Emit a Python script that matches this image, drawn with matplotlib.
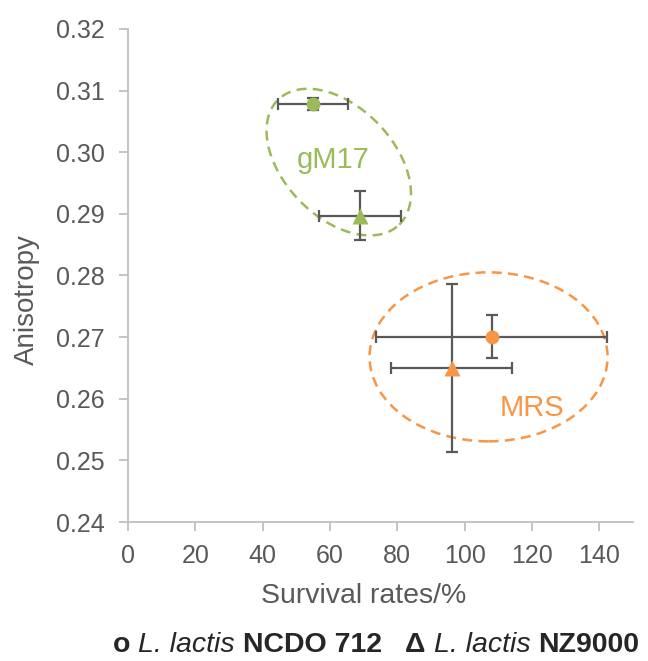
import numpy as np
import matplotlib.pyplot as plt
from matplotlib.patches import Ellipse
from matplotlib.offsetbox import TextArea, HPacker, AnchoredOffsetbox

plt.rcParams['font.family'] = ['Liberation Sans', 'DejaVu Sans']

# data: [gM17, MRS]
ncdo_x = [54.9, 108.0]
ncdo_y = [0.3078, 0.2701]
ncdo_xerr = [10.3, 34.3]
ncdo_yerr = [0.0010, 0.0035]

nz_x = [68.8, 96.1]
nz_y = [0.2897, 0.2650]
nz_xerr = [12.2, 18.0]
nz_yerr = [0.0040, 0.0137]

colors = ['#9BBB59', '#F79646']
media = ['gM17', 'MRS']
xticks = [0, 20, 40, 60, 80, 100, 120, 140]
yticks = [0.24, 0.25, 0.26, 0.27, 0.28, 0.29, 0.30, 0.31, 0.32]

W, H = 648, 661
left, right, bottom, top = 128 / W, 633 / W, 1 - 522 / H, 1 - 29 / H
fig = plt.figure(figsize=(W / 100, H / 100), dpi=100)
ax = fig.add_axes([left, bottom, right - left, top - bottom])
ax.set_xlim(0, 150)
ax.set_ylim(0.24, 0.32)

grey = '#595959'
for i in range(2):
    ax.errorbar(ncdo_x[i], ncdo_y[i], xerr=ncdo_xerr[i], yerr=ncdo_yerr[i], fmt='none',
                ecolor=grey, elinewidth=1.6, capsize=4, capthick=1.6, zorder=2)
    ax.errorbar(nz_x[i], nz_y[i], xerr=nz_xerr[i], yerr=nz_yerr[i], fmt='none',
                ecolor=grey, elinewidth=1.6, capsize=4, capthick=1.6, zorder=2)
    ax.plot(ncdo_x[i], ncdo_y[i], 'o', color=colors[i], ms=10, mec='none', zorder=3)
    ax.plot(nz_x[i], nz_y[i], '^', color=colors[i], ms=12, mec='none', zorder=3)

# pixel scale of the axes
sx = (right - left) * W / 150
sy = (top - bottom) * H / 0.08

# gM17 ellipse, rotated in screen space
t = np.linspace(0, 2 * np.pi, 300)
a, b, ang = 87, 55, np.deg2rad(-46)
cx, cy = 62.6, 0.2984
ex = cx + (a * np.cos(t) * np.cos(ang) - b * np.sin(t) * np.sin(ang)) / sx
ey = cy + (a * np.cos(t) * np.sin(ang) + b * np.sin(t) * np.cos(ang)) / sy
ax.plot(ex, ey, color=colors[0], lw=1.8, ls=(0, (4, 2.5)), zorder=1)

# MRS ellipse
ax.add_patch(Ellipse((107.1, 0.2668), 238 / sx, 169 / sy, fill=False,
                     ec=colors[1], lw=1.8, ls=(0, (4, 2.5)), zorder=1))

ax.text(61.0, 0.2988, media[0], color=colors[0], fontsize=21, ha='center', va='center')
ax.text(120.0, 0.2585, media[1], color=colors[1], fontsize=21, ha='center', va='center')

for s in ['top', 'right']:
    ax.spines[s].set_visible(False)
for s in ['left', 'bottom']:
    ax.spines[s].set_color('#BFBFBF')
    ax.spines[s].set_linewidth(1.3)
ax.set_xticks(xticks)
ax.set_yticks(yticks)
ax.set_yticklabels([f'{v:.2f}' for v in yticks])
ax.tick_params(colors='#BFBFBF', labelcolor=grey, labelsize=18, length=6.5, width=1.3)
ax.tick_params(axis='x', pad=9)
ax.tick_params(axis='y', pad=10)
ax.set_xlabel('Survival rates/%', fontsize=20.5, color=grey)
ax.set_ylabel('Anisotropy', fontsize=20, color=grey)
ax.xaxis.set_label_coords(70 / 150, -0.123)
ax.yaxis.set_label_coords(-0.174, 0.452)

# legend made of text pieces
fc = '#262626'
parts = [('o ', 'normal', 'bold'), ('L. lactis ', 'italic', 'normal'), ('NCDO 712   ', 'normal', 'bold'),
         ('Δ ', 'normal', 'bold'), ('L. lactis ', 'italic', 'normal'), ('NZ9000', 'normal', 'bold')]
boxes = [TextArea(s, textprops=dict(fontsize=20.5, style=st, weight=w, color=fc)) for s, st, w in parts]
pack = HPacker(children=boxes, align='baseline', pad=0, sep=0)
ab = AnchoredOffsetbox(loc='center', child=pack, frameon=False, pad=0, borderpad=0,
                       bbox_to_anchor=(376 / W, 1 - 645 / H), bbox_transform=fig.transFigure)
fig.add_artist(ab)

fig.savefig('out.png', dpi=100)
